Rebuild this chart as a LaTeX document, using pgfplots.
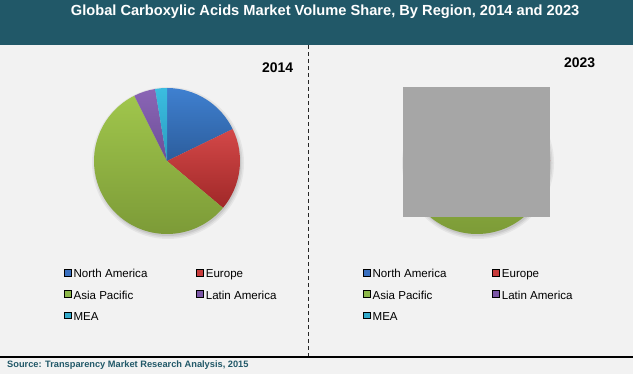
\documentclass[border=0pt]{standalone}
\usepackage{pgfplots}
\pgfplotsset{compat=1.18}
\usepackage{pgfplotstable}
\usepackage{fontspec}
\setmainfont{Liberation Sans}

\definecolor{titlebar}{HTML}{215868}
\definecolor{bg}{HTML}{F2F2F2}
\definecolor{srccol}{HTML}{215868}
\definecolor{topNA}{HTML}{3F80D0}\definecolor{botNA}{HTML}{2C5D9C}
\definecolor{topEU}{HTML}{D34848}\definecolor{botEU}{HTML}{A02828}
\definecolor{topAP}{HTML}{A0C64C}\definecolor{botAP}{HTML}{7A9836}
\definecolor{topLA}{HTML}{8A65B5}\definecolor{botLA}{HTML}{6D4E98}
\definecolor{topMEA}{HTML}{3BBDE0}\definecolor{botMEA}{HTML}{2A9CC0}
\definecolor{legNA}{HTML}{3A70C0}
\definecolor{legEU}{HTML}{C83C3C}
\definecolor{legAP}{HTML}{8DB84A}
\definecolor{legLA}{HTML}{7B56A6}
\definecolor{legMEA}{HTML}{33AACB}
\definecolor{cover}{HTML}{A6A6A6}

% 2014 shares (%)
\pgfplotstableread{
key share
NA 17.8
EU 18.3
AP 56.5
LA 4.8
MEA 2.6
}\pieA
% 2023 shares (%), mostly hidden in the reference
\pgfplotstableread{
key share
NA 16.5
EU 16.8
AP 58.9
LA 5.0
MEA 2.8
}\pieB

\newcommand\drawpie[4]{%
  \fill[black,opacity=0.05] (axis cs:#2+1,#3-2) circle[radius=#4bp+3bp];
  \fill[black,opacity=0.06] (axis cs:#2+1,#3-2) circle[radius=#4bp+1.5bp];
  \fill[black,opacity=0.08] (axis cs:#2+1,#3-2) circle[radius=#4bp];
  \pgfplotstablegetrowsof{#1}%
  \pgfmathtruncatemacro\lastrow{\pgfplotsretval-1}%
  \gdef\cum{0}%
  \foreach \i in {0,...,\lastrow}{%
    \pgfplotstablegetelem{\i}{share}\of#1\let\val\pgfplotsretval
    \pgfplotstablegetelem{\i}{key}\of#1\let\key\pgfplotsretval
    \pgfmathsetmacro\sa{90-3.6*\cum}%
    \pgfmathsetmacro\ea{90-3.6*(\cum+\val)}%
    \shade[top color=top\key, bottom color=bot\key] (axis cs:#2,#3) -- ++(\sa:#4bp) arc[start angle=\sa, end angle=\ea, radius=#4bp] -- cycle;
    \pgfmathsetmacro\nc{\cum+\val}\global\let\cum\nc
  }%
}

\pgfplotsset{
  piebase/.style={
    at={(0,0)}, anchor=south west, width=633bp, height=374bp, scale only axis,
    xmin=0, xmax=633, ymin=0, ymax=374, hide axis, clip=false,
    legend columns=2, legend cell align=left,
    legend image code/.code={\fill[##1] (0bp,-1bp) rectangle (6.5bp,5.5bp);},
    legend style={draw=none, fill=none, anchor=north west,
      font=\fontsize{11.6}{13}\selectfont, inner sep=0pt,
      column sep=2.5bp, row sep=10bp,
      nodes={inner sep=0pt, text height=8.5bp, text depth=2.5bp}},
  }
}

\begin{document}
\begin{tikzpicture}[x=1bp,y=1bp]
\path[use as bounding box] (0,0) rectangle (633,374);
\fill[bg] (0,0) rectangle (633,374);
\fill[titlebar] (0,329) rectangle (633,374);
\node[anchor=base west, inner sep=0pt, text=white, font=\fontsize{14.7}{16}\selectfont\bfseries] at (70.7,359) {Global Carboxylic Acids Market Volume Share, By Region, 2014 and 2023};
\draw[line width=1bp, black!85, dash pattern=on 4bp off 3bp] (308,329) -- (308,17);
\draw[line width=1.2bp, black] (0,17) -- (633,17);
\node[anchor=base west, inner sep=0pt, text=srccol, font=\fontsize{9.3}{10}\selectfont\bfseries] at (7,7) {Source: Transparency Market Research Analysis, 2015};
\node[anchor=base west, inner sep=0pt, font=\fontsize{14}{16}\selectfont\bfseries] at (262,301.3) {2014};
\node[anchor=base west, inner sep=0pt, font=\fontsize{14}{16}\selectfont\bfseries] at (564,306.3) {2023};

\begin{axis}[piebase, legend style={at={(0.1011,0.2807)}, /tikz/column 2/.style={column sep=49bp}}]
\pgfplotsextra{\drawpie{\pieA}{167}{213}{73}}
\addlegendimage{fill=legNA}\addlegendentry{North America}
\addlegendimage{fill=legEU}\addlegendentry{Europe}
\addlegendimage{fill=legAP}\addlegendentry{Asia Pacific}
\addlegendimage{fill=legLA}\addlegendentry{Latin America}
\addlegendimage{fill=legMEA}\addlegendentry{MEA}
\end{axis}

\begin{axis}[piebase, legend style={at={(0.5735,0.2807)}, /tikz/column 2/.style={column sep=46bp}}]
\pgfplotsextra{\drawpie{\pieB}{477}{213}{73}}
\addlegendimage{fill=legNA}\addlegendentry{North America}
\addlegendimage{fill=legEU}\addlegendentry{Europe}
\addlegendimage{fill=legAP}\addlegendentry{Asia Pacific}
\addlegendimage{fill=legLA}\addlegendentry{Latin America}
\addlegendimage{fill=legMEA}\addlegendentry{MEA}
\end{axis}

\fill[cover] (403,287) rectangle (550,157);
\end{tikzpicture}
\end{document}
